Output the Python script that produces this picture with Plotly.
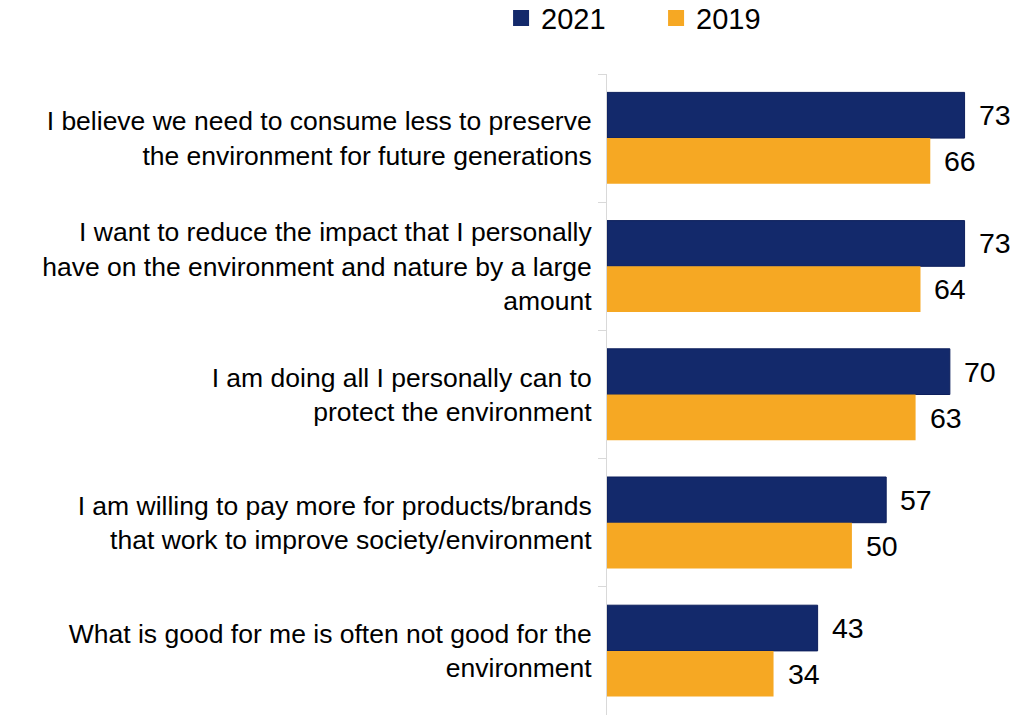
import plotly.graph_objects as go

# Survey statements (top to bottom) and agreement shares (%)
statements = [
    "I believe we need to consume less to preserve<br>the environment for future generations",
    "I want to reduce the impact that I personally<br>have on the environment and nature by a large<br>amount",
    "I am doing all I personally can to<br>protect the environment",
    "I am willing to pay more for products/brands<br>that work to improve society/environment",
    "What is good for me is often not good for the<br>environment",
]
values_2021 = [73, 73, 70, 57, 43]
values_2019 = [66, 64, 63, 50, 34]

NAVY = "#13296B"
ORANGE = "#F6A823"
FONT = "Liberation Sans, Arial, sans-serif"

fig = go.Figure()
fig.add_trace(go.Bar(
    y=statements, x=values_2021, orientation="h", name="2021",
    marker=dict(color=NAVY, line=dict(color="#0D1F5C", width=1)),
    showlegend=False,
))
fig.add_trace(go.Bar(
    y=statements, x=values_2019, orientation="h", name="2019",
    marker=dict(color=ORANGE, line=dict(width=0)),
    showlegend=False,
))

# Legend entries with larger square swatches
for name, col in [("2021", NAVY), ("2019", ORANGE)]:
    fig.add_trace(go.Scatter(
        x=[None], y=[None], mode="markers", name=name,
        marker=dict(symbol="square", size=17, color=col),
    ))

# Value labels next to each bar
annotations = []
for cat, v21, v19 in zip(statements, values_2021, values_2019):
    annotations.append(dict(x=v21, y=cat, text=str(v21), showarrow=False,
                            xanchor="left", yanchor="middle", xshift=12, yshift=23,
                            font=dict(family=FONT, size=28.5, color="#000000")))
    annotations.append(dict(x=v19, y=cat, text=str(v19), showarrow=False,
                            xanchor="left", yanchor="middle", xshift=12, yshift=-23,
                            font=dict(family=FONT, size=28.5, color="#000000")))

fig.update_layout(
    width=1016, height=715,
    margin=dict(l=607, r=0, t=74, b=0, autoexpand=False),
    paper_bgcolor="white", plot_bgcolor="white",
    barmode="group", bargap=0.287, bargroupgap=0,
    font=dict(family=FONT, size=26.5, color="#000000"),
    annotations=annotations,
    legend=dict(orientation="h", x=-0.259, xanchor="left", y=1.087, yanchor="middle",
                font=dict(family=FONT, size=29, color="#000000"),
                itemwidth=30, entrywidth=110, tracegroupgap=0),
    xaxis=dict(range=[0, 83.5], visible=False, fixedrange=True),
    yaxis=dict(autorange="reversed", showline=True, linecolor="#D9D9D9", linewidth=1,
               ticks="outside", tickson="boundaries", ticklen=8, tickcolor="#D9D9D9",
               showgrid=False, zeroline=False, ticklabelstandoff=9,
               tickfont=dict(family=FONT, size=26.5, color="#000000")),
)

fig.write_html("out.html")
